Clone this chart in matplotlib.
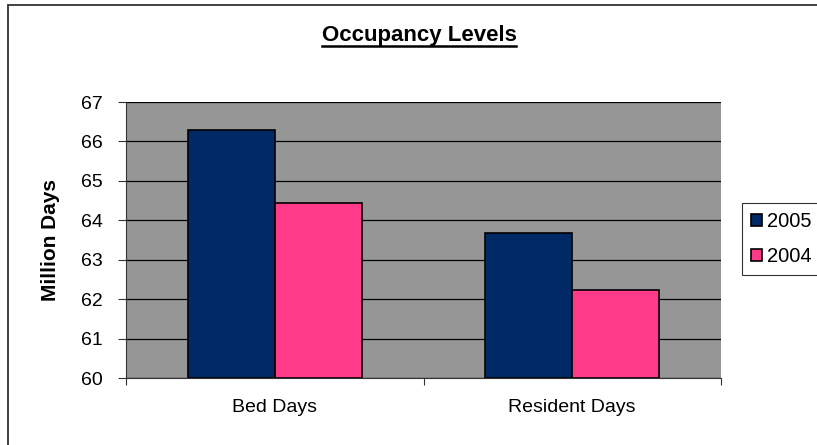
import numpy as np
import matplotlib
matplotlib.use("Agg")
import matplotlib.pyplot as plt
from matplotlib.patches import Rectangle
from matplotlib.lines import Line2D

plt.rcParams['font.family'] = ['Liberation Sans', 'DejaVu Sans']

categories = ["Bed Days", "Resident Days"]
series_names = ["2005", "2004"]
values_2005 = [66.29, 63.67]
values_2004 = [64.43, 62.23]
y_ticks = [60, 61, 62, 63, 64, 65, 66, 67]

W, H = 817, 445
fig = plt.figure(figsize=(W / 100, H / 100), dpi=100)
fig.patch.set_facecolor("white")

# outer chart border (runs off the right/bottom edge like the source)
fig.patches.append(Rectangle((8 / W, -0.1), 1.2, 1 - 5 / H + 0.1,
                             transform=fig.transFigure, fill=False,
                             edgecolor="#333333", linewidth=1.3))

ax = fig.add_axes([126 / W, 1 - 378 / H, (721 - 126) / W, (378 - 102) / H])
ax.set_facecolor("#969696")

x = np.arange(len(categories))
bw = 0.293
b1 = ax.bar(x - bw / 2, np.array(values_2005) - 60, bw, bottom=60,
            color="#002A66", edgecolor="black", linewidth=1.2, label=series_names[0])
b2 = ax.bar(x + bw / 2, np.array(values_2004) - 60, bw, bottom=60,
            color="#FF3A88", edgecolor="black", linewidth=1.2, label=series_names[1])

ax.set_xlim(-0.5, len(categories) - 0.5)
ax.set_ylim(60, 67)
ax.set_yticks(y_ticks)
ax.yaxis.grid(True, color="black", linewidth=0.9)
ax.set_axisbelow(True)

# category boundaries carry the ticks, labels sit in the middle
ax.set_xticks(np.arange(-0.5, len(categories)))
ax.set_xticklabels([])
ax.set_xticks(x, minor=True)
ax.set_xticklabels(categories, minor=True, fontsize=14)
ax.tick_params(axis="x", which="minor", length=0, pad=15)
ax.tick_params(axis="x", which="major", length=5, color="#333333")
ax.tick_params(axis="y", length=6, color="#333333", labelsize=14, pad=11)

for s in ["top", "right"]:
    ax.spines[s].set_visible(False)
for s in ["left", "bottom"]:
    ax.spines[s].set_color("#333333")

ax.set_ylabel("Million Days", fontsize=15, fontweight="bold")
ax.yaxis.set_label_coords((60 - 126) / 595, 0.5)

# underlined title
t = fig.text(419 / W, 1 - 35 / H, "Occupancy Levels", ha="center", va="center",
             fontsize=16, fontweight="bold")
fig.canvas.draw()
bb = t.get_window_extent(fig.canvas.get_renderer())
fig.lines.append(Line2D([bb.x0 / W, bb.x1 / W], [1 - 46 / H, 1 - 46 / H],
                        transform=fig.transFigure, color="black", linewidth=1.8))

leg = fig.legend(handles=[b1, b2], labels=series_names, loc="upper left",
                 bbox_to_anchor=(742 / W, 1 - 203 / H), fontsize=14.5,
                 frameon=True, fancybox=False, edgecolor="black",
                 handlelength=0.55, handleheight=0.55, handletextpad=0.22,
                 labelspacing=0.8, borderpad=0.45, borderaxespad=0)
leg.get_frame().set_linewidth(0.8)

fig.savefig("out.png", dpi=100)
